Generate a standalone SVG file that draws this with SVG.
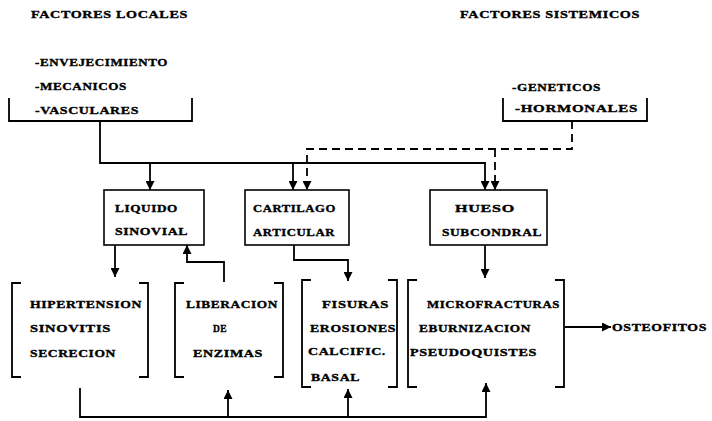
<svg xmlns="http://www.w3.org/2000/svg" width="712" height="421" viewBox="0 0 712 421">
<defs>
<marker id="ah" viewBox="0 0 10 10" refX="10" refY="5" markerWidth="9" markerHeight="9" markerUnits="userSpaceOnUse" orient="auto">
<path d="M0,0 L10,5 L0,10 Z" fill="#000"/>
</marker>
</defs>
<style>
text{font-family:"Liberation Serif","DejaVu Serif",serif;font-weight:bold;font-size:11px;fill:#000;stroke:#000;stroke-width:0.35;letter-spacing:0.5px}
.box{fill:none;stroke:#000;stroke-width:1.6}
.br{fill:none;stroke:#000;stroke-width:1.8}
.c{fill:none;stroke:#000;stroke-width:1.8}
.d{fill:none;stroke:#000;stroke-width:1.8;stroke-dasharray:8 5}
.a{marker-end:url(#ah)}
</style>
<rect width="712" height="421" fill="#fff"/>

<g id="factores-locales">
<text x="31" y="18" textLength="157" lengthAdjust="spacingAndGlyphs">FACTORES  LOCALES</text>
<text x="35" y="66" textLength="133" lengthAdjust="spacingAndGlyphs">-ENVEJECIMIENTO</text>
<text x="35" y="90" textLength="92" lengthAdjust="spacingAndGlyphs">-MECANICOS</text>
<text x="35" y="114" textLength="104" lengthAdjust="spacingAndGlyphs">-VASCULARES</text>
<path class="br" d="M9,98 V121 H192 V98"/>
</g>

<g id="factores-sistemicos">
<text x="460" y="18" textLength="180" lengthAdjust="spacingAndGlyphs">FACTORES  SISTEMICOS</text>
<text x="512" y="91" textLength="89" lengthAdjust="spacingAndGlyphs">-GENETICOS</text>
<text x="515" y="112" textLength="123" lengthAdjust="spacingAndGlyphs">-HORMONALES</text>
<path class="br" d="M503,98 V121 H647 V98"/>
</g>

<g id="liquido-sinovial">
<rect class="box" x="104" y="190" width="100" height="55"/>
<text x="115" y="212" textLength="63" lengthAdjust="spacingAndGlyphs">LIQUIDO</text>
<text x="115" y="235" textLength="73" lengthAdjust="spacingAndGlyphs">SINOVIAL</text>
</g>

<g id="cartilago-articular">
<rect class="box" x="245" y="190" width="104" height="55"/>
<text x="253" y="212" textLength="83" lengthAdjust="spacingAndGlyphs">CARTILAGO</text>
<text x="253" y="236" textLength="82" lengthAdjust="spacingAndGlyphs">ARTICULAR</text>
</g>

<g id="hueso-subcondral">
<rect class="box" x="430" y="190" width="117" height="55"/>
<text x="455" y="212" textLength="60" lengthAdjust="spacingAndGlyphs">HUESO</text>
<text x="442" y="236" textLength="100" lengthAdjust="spacingAndGlyphs">SUBCONDRAL</text>
</g>

<g id="hipertension">
<path class="br" d="M21,283 H12 V377 H21 M139,283 H148 V377 H139"/>
<text x="30" y="308" textLength="112" lengthAdjust="spacingAndGlyphs">HIPERTENSION</text>
<text x="30" y="332" textLength="81" lengthAdjust="spacingAndGlyphs">SINOVITIS</text>
<text x="30" y="357" textLength="86" lengthAdjust="spacingAndGlyphs">SECRECION</text>
</g>

<g id="liberacion">
<path class="br" d="M184,283 H175 V377 H184 M274,283 H283 V377 H274"/>
<text x="186" y="308" textLength="92" lengthAdjust="spacingAndGlyphs">LIBERACION</text>
<text x="213" y="332" textLength="14" lengthAdjust="spacingAndGlyphs">DE</text>
<text x="193" y="357" textLength="70" lengthAdjust="spacingAndGlyphs">ENZIMAS</text>
</g>

<g id="fisuras">
<path class="br" d="M311,280 H302 V387 H311 M388,280 H397 V387 H388"/>
<text x="322" y="308" textLength="67" lengthAdjust="spacingAndGlyphs">FISURAS</text>
<text x="310" y="332" textLength="86" lengthAdjust="spacingAndGlyphs">EROSIONES</text>
<text x="308" y="355" textLength="78" lengthAdjust="spacingAndGlyphs">CALCIFIC.</text>
<text x="311" y="381" textLength="49" lengthAdjust="spacingAndGlyphs">BASAL</text>
</g>

<g id="microfracturas">
<path class="br" d="M417,280 H408 V387 H417 M555,280 H564 V387 H555"/>
<text x="427" y="308" textLength="133" lengthAdjust="spacingAndGlyphs">MICROFRACTURAS</text>
<text x="419" y="332" textLength="112" lengthAdjust="spacingAndGlyphs">EBURNIZACION</text>
<text x="410" y="356" textLength="127" lengthAdjust="spacingAndGlyphs">PSEUDOQUISTES</text>
</g>

<g id="osteofitos">
<text x="612" y="331" textLength="95" lengthAdjust="spacingAndGlyphs">OSTEOFITOS</text>
</g>

<g id="connectors">
<path class="c a" d="M100,121 V163 H485 V190"/>
<path class="c a" d="M150,163 V190"/>
<path class="c a" d="M293,163 V190"/>
<path class="d a" d="M572,121 V149 H307 V190"/>
<path class="d a" d="M495,149 V190"/>
<path class="c a" d="M115,245 V277"/>
<path class="c a" d="M224,282 V262 H187 V245"/>
<path class="c a" d="M294,245 V260 H348 V281"/>
<path class="c a" d="M485,245 V278"/>
<path class="c a" d="M80,388 V417 H486 V383"/>
<path class="c a" d="M228,417 V390"/>
<path class="c a" d="M348,417 V389"/>
<path class="c a" d="M565,327 H611"/>
</g>
</svg>
